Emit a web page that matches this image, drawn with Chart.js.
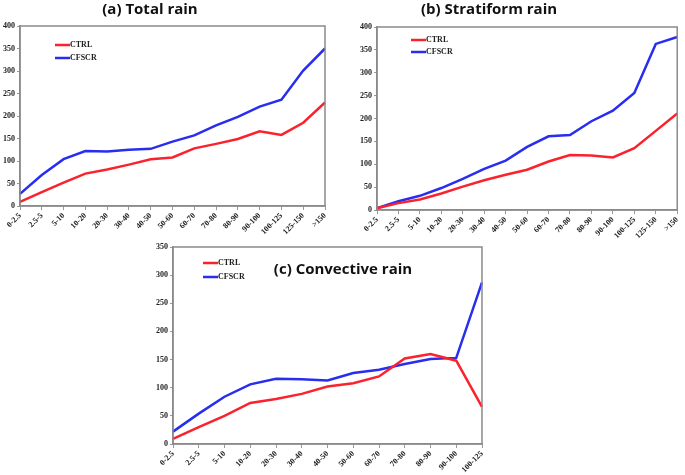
<!DOCTYPE html>
<html>
<head>
<meta charset="utf-8">
<script src="https://cdn.jsdelivr.net/npm/chart.js@4.4.0/dist/chart.umd.min.js"></script>
<style>
  body { margin: 0; background: #fff; }
  #wrap { position: relative; width: 685px; height: 475px; overflow: hidden; }
  canvas { position: absolute; }
</style>
</head>
<body>
<div id="wrap">
  <canvas id="chartA" width="345" height="240" style="left:0px;top:0px"></canvas>
  <canvas id="chartB" width="345" height="240" style="left:340px;top:0px"></canvas>
  <canvas id="chartC" width="430" height="240" style="left:130px;top:235px"></canvas>
</div>
<script>
// rain rate classes (mm/day)
const classesLong = ['0-2.5','2.5-5','5-10','10-20','20-30','30-40','40-50','50-60','60-70','70-80','80-90','90-100','100-125','125-150','>150'];
const classesShort = ['0-2.5','2.5-5','5-10','10-20','20-30','30-40','40-50','50-60','60-70','70-80','80-90','90-100','100-125'];

// (a) total rain
const totalCtrl  = [9, 31, 52, 72, 81, 92, 104, 108, 128, 138, 149, 166, 158, 185, 230];
const totalCfscr = [27, 69, 104, 122, 121, 125, 127, 143, 157, 179, 198, 221, 236, 301, 350];

// (b) stratiform rain
const stratCtrl  = [4, 15, 23, 36, 51, 65, 77, 88, 106, 120, 119, 115, 135, 173, 211];
const stratCfscr = [4, 19, 31, 48, 68, 90, 108, 138, 161, 164, 194, 217, 256, 363, 378];

// (c) convective rain
const convCtrl  = [9, 30, 50, 73, 80, 89, 102, 108, 120, 152, 160, 148, 66];
const convCfscr = [22, 54, 84, 106, 116, 115, 113, 126, 132, 142, 151, 153, 287];

const seriesNames = ['CTRL', 'CFSCR'];
const seriesColors = ['rgb(250,35,45)', 'rgb(40,45,240)'];

const tickFont = { family: '"Liberation Serif", "DejaVu Serif", serif', size: 8, weight: 'bold' };

// frame round the plot area, title and legend drawn inside
const framePlugin = {
  id: 'frameAndText',
  afterDraw(chart, args, o) {
    const ctx = chart.ctx;
    const a = chart.chartArea;
    ctx.save();
    ctx.strokeStyle = '#8a8a8a';
    ctx.lineWidth = 1.5;
    ctx.strokeRect(a.left, a.top, a.right - a.left, a.bottom - a.top);

    // legend
    ctx.font = 'bold 8px "Liberation Serif", serif';
    ctx.textBaseline = 'middle';
    chart.data.datasets.forEach((ds, i) => {
      const y = a.top + o.legY + i * o.legGap;
      ctx.strokeStyle = ds.borderColor;
      ctx.lineWidth = 2.5;
      ctx.beginPath();
      ctx.moveTo(a.left + o.legX, y);
      ctx.lineTo(a.left + o.legX + 15, y);
      ctx.stroke();
      ctx.fillStyle = '#222';
      ctx.textAlign = 'left';
      ctx.fillText(ds.label, a.left + o.legX + 15, y);
    });

    // title
    ctx.font = 'bold ' + o.titleSize + 'px "Open Sans", sans-serif';
    ctx.fillStyle = '#111';
    ctx.textAlign = 'center';
    ctx.textBaseline = 'middle';
    ctx.fillText(o.title, o.titleX, o.titleY);
    ctx.restore();
  }
};

function makeChart(id, labels, ctrl, cfscr, yMax, lay, txt) {
  return new Chart(document.getElementById(id), {
    type: 'line',
    data: {
      labels: labels,
      datasets: [
        { label: seriesNames[0], data: ctrl, borderColor: seriesColors[0], borderWidth: 2.5, pointRadius: 0, tension: 0 },
        { label: seriesNames[1], data: cfscr, borderColor: seriesColors[1], borderWidth: 2.5, pointRadius: 0, tension: 0 }
      ]
    },
    options: {
      responsive: false,
      animation: false,
      devicePixelRatio: 1,
      layout: { padding: lay.padding },
      plugins: {
        legend: { display: false },
        title: { display: false },
        tooltip: { enabled: false },
        frameAndText: txt
      },
      scales: {
        x: {
          offset: false,
          grid: { display: true, drawOnChartArea: false, offset: false, tickLength: 4, color: '#999' },
          border: { display: true, color: '#8a8a8a', width: 1.5 },
          ticks: { autoSkip: false, minRotation: 45, maxRotation: 45, padding: 1, color: '#222', font: tickFont },
          afterFit: (s) => { s.height = lay.xHeight; }
        },
        y: {
          min: 0, max: yMax,
          grid: { display: true, drawOnChartArea: false, tickLength: 3, color: '#999' },
          border: { display: true, color: '#8a8a8a', width: 1.5 },
          ticks: { stepSize: 50, padding: 2, color: '#222', font: tickFont },
          afterFit: (s) => { s.width = lay.yWidth; }
        }
      }
    },
    plugins: [framePlugin]
  });
}

makeChart('chartA', classesLong, totalCtrl, totalCfscr, 400,
  { padding: { left: 0, right: 20, top: 26, bottom: 0 }, xHeight: 34, yWidth: 20 },
  { title: '(a) Total rain', titleX: 150, titleY: 10, titleSize: 15, legX: 35, legY: 19, legGap: 13 });

makeChart('chartB', classesLong, stratCtrl, stratCfscr, 400,
  { padding: { left: 17, right: 5, top: 27, bottom: 0 }, xHeight: 30, yWidth: 20 },
  { title: '(b) Stratiform rain', titleX: 149, titleY: 10, titleSize: 15, legX: 34, legY: 13, legGap: 12 });

makeChart('chartC', classesShort, convCtrl, convCfscr, 350,
  { padding: { left: 23, right: 78, top: 12, bottom: 0 }, xHeight: 31, yWidth: 20 },
  { title: '(c) Convective rain', titleX: 213, titleY: 35, titleSize: 15, legX: 30, legY: 16, legGap: 14 });
</script>
</body>
</html>
